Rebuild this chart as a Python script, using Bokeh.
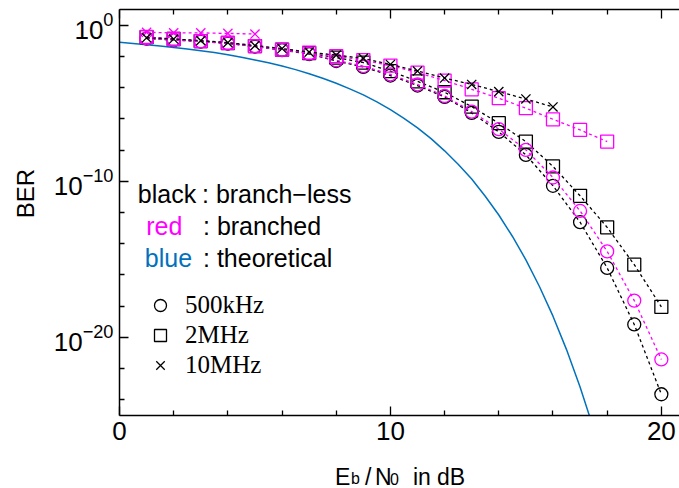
import math
from bokeh.plotting import figure
from bokeh.layouts import row, column
from bokeh.models import (LinearAxis, FixedTicker, Label, Legend, LegendItem,
                          ColumnDataSource)
from bokeh.embed import file_html
from bokeh.resources import INLINE

# ---------------- data (log10 of BER) ----------------
ebn0 = list(range(1, 21))

bl_500k_log = [-0.86, -0.96, -1.05, -1.18, -1.37, -1.60, -1.85, -2.30, -2.68, -3.23,
               -3.87, -4.60, -5.62, -6.84, -8.31, -10.29, -12.62, -15.55, -19.17, -23.64]
br_500k_log = [-0.85, -0.95, -1.04, -1.17, -1.35, -1.58, -1.82, -2.25, -2.62, -3.16,
               -3.80, -4.54, -5.54, -6.66, -7.99, -9.76, -11.90, -14.49, -17.64, -21.41]
bl_2M_log = [-0.77, -0.89, -1.02, -1.15, -1.34, -1.57, -1.79, -2.08, -2.40, -2.95,
             -3.60, -4.30, -5.22, -6.28, -7.46, -9.05, -10.93, -12.95, -15.34, -18.04]
br_2M_log = [-0.75, -0.89, -1.02, -1.13, -1.34, -1.57, -1.76, -1.98, -2.24, -2.59,
             -3.04, -3.55, -4.11, -4.68, -5.32, -6.03, -6.71, -7.46]
bl_10M_log = [-0.81, -0.89, -0.99, -1.12, -1.31, -1.50, -1.73, -1.92, -2.13, -2.52,
              -2.94, -3.39, -3.80, -4.26, -4.73, -5.24]
br_10M_log = [-0.46, -0.50, -0.50, -0.53, -0.57]

theo_x = [0, 0.5, 1, 1.5, 2, 2.5, 3, 3.5, 4, 4.5, 5, 5.5, 6, 6.5, 7, 7.5, 8, 8.5,
          9, 9.5, 10, 10.5, 11, 11.5, 12, 12.5, 13, 13.5, 14, 14.5, 15, 15.5, 16,
          16.5, 17, 17.5]
theo_log = [-1.10, -1.17, -1.25, -1.33, -1.43, -1.53, -1.64, -1.76, -1.90, -2.06,
            -2.23, -2.41, -2.62, -2.85, -3.11, -3.40, -3.72, -4.08, -4.47, -4.92,
            -5.41, -5.97, -6.58, -7.27, -8.05, -8.91, -9.86, -10.96, -12.16, -13.52,
            -15.03, -16.74, -18.64, -20.78, -23.17, -25.85]

x_ticks = [0, 10, 20]
x_minor = [2, 4, 6, 8, 12, 14, 16, 18]
y_ticks = [1e0, 1e-10, 1e-20]
y_minor = [1e-2, 1e-4, 1e-6, 1e-8, 1e-12, 1e-14, 1e-16, 1e-18, 1e-22, 1e-24]

BLACK = "#000000"
MAG = "#FF00FF"
BLUE = "#0072BD"
SANS = "Liberation Sans"
SERIF = "Liberation Serif"

TOTAL_W, TOTAL_H = 679, 488
LEFT_W = 40          # strip holding the "BER" label
BOTTOM_H = 30        # strip holding the x-axis title
MAIN_H = TOTAL_H - BOTTOM_H
FRAME_TOP, FRAME_BOTTOM, FRAME_LEFT = 9, 415, 119


def ber(logs):
    return [10.0 ** v for v in logs]


def blank_fig(w, h):
    f = figure(width=w, height=h, x_range=(0, 1), y_range=(0, 1),
               output_backend="svg", toolbar_location=None,
               min_border=0, x_axis_type=None, y_axis_type=None)
    f.xgrid.visible = False
    f.ygrid.visible = False
    f.outline_line_color = None
    f.background_fill_color = "white"
    f.border_fill_color = "white"
    return f


p = figure(width=TOTAL_W - LEFT_W, height=MAIN_H, x_range=(0, 20.67),
           y_range=(1e-25, 1e1), y_axis_type="log", output_backend="svg",
           toolbar_location=None, min_border_left=FRAME_LEFT - LEFT_W,
           min_border_right=0, min_border_top=FRAME_TOP,
           min_border_bottom=MAIN_H - FRAME_BOTTOM)
p.xgrid.visible = False
p.ygrid.visible = False
p.outline_line_color = None
p.background_fill_color = "white"
p.border_fill_color = "white"


def style_axis(ax, show_labels=True):
    ax.axis_line_width = 1.5
    ax.axis_line_color = "black"
    ax.major_tick_in = 9
    ax.major_tick_out = 0
    ax.minor_tick_in = 5
    ax.minor_tick_out = 0
    ax.major_tick_line_width = 1.3
    ax.minor_tick_line_width = 1.3
    ax.major_tick_line_color = "black"
    ax.minor_tick_line_color = "black"
    if show_labels:
        ax.major_label_text_font = SANS
        ax.major_label_text_font_size = "26px"
        ax.major_label_text_color = "black"
    else:
        ax.major_label_text_font_size = "0px"
        ax.major_label_standoff = 0


xa = p.xaxis[0]
xa.ticker = FixedTicker(ticks=x_ticks, minor_ticks=x_minor)
style_axis(xa)
xa.major_label_standoff = 6

ya = p.yaxis[0]
ya.ticker = FixedTicker(ticks=y_ticks, minor_ticks=y_minor)
style_axis(ya)
ya.major_label_standoff = 6

top = LinearAxis(ticker=FixedTicker(ticks=x_ticks, minor_ticks=x_minor))
style_axis(top, show_labels=False)
p.add_layout(top, "above")

# theoretical curve
p.line(theo_x, ber(theo_log), line_color=BLUE, line_width=1.5)

DASH = "3 3"
LW = 1.3
MS = 13


def series(xs, logs, color, marker):
    src = ColumnDataSource(dict(x=xs, y=ber(logs)))
    p.line("x", "y", source=src, line_color=color, line_dash=DASH, line_width=LW)
    return p.scatter("x", "y", source=src, marker=marker, size=MS, fill_color=None,
                     line_color=color, line_width=LW)


r_bc = series(ebn0[:len(bl_500k_log)], bl_500k_log, BLACK, "circle")
r_bs = series(ebn0[:len(bl_2M_log)], bl_2M_log, BLACK, "square")
series(ebn0[:len(br_500k_log)], br_500k_log, MAG, "circle")
series(ebn0[:len(br_2M_log)], br_2M_log, MAG, "square")
series(ebn0[:len(br_10M_log)], br_10M_log, MAG, "x")
r_bx = series(ebn0[:len(bl_10M_log)], bl_10M_log, BLACK, "x")

BASE_SHIFT = 8   # compensates where Bokeh puts an "alphabetic" baseline


def lab(fig, x0, y1, px, py, text, size="25px", color="black", font=SANS,
        align="left", baseline="alphabetic", angle=0):
    """Place a label given page-style coordinates (px, py); (x0, y1) are the page
    coordinates of the figure frame's left and bottom edges."""
    if baseline == "alphabetic":
        py = py - BASE_SHIFT
    fig.add_layout(Label(x=px - x0, y=y1 - py, x_units="screen", y_units="screen",
                         text=text, text_font=font, text_font_size=size,
                         text_color=color, text_align=align, text_baseline=baseline,
                         angle=angle))


FX0, FY1 = float(FRAME_LEFT), float(FRAME_BOTTOM)

# colour legend
lab(p, FX0, FY1, 137.3, 201, "black", color=BLACK)
lab(p, FX0, FY1, 201.5, 201, ": branch\u2212less")
lab(p, FX0, FY1, 145.7, 233, "red", color=MAG)
lab(p, FX0, FY1, 202.5, 233, ": branched")
lab(p, FX0, FY1, 144.3, 265, "blue", color=BLUE)
lab(p, FX0, FY1, 202.5, 265, ": theoretical")

legend = Legend(items=[LegendItem(label="500kHz", renderers=[r_bc]),
                       LegendItem(label="2MHz", renderers=[r_bs]),
                       LegendItem(label="10MHz", renderers=[r_bx])],
                location=(145 - FX0, FY1 - 380), glyph_width=30, glyph_height=30,
                label_standoff=10, spacing=0, padding=0, margin=0,
                border_line_color=None, background_fill_alpha=0,
                label_text_font=SERIF, label_text_font_size="25px",
                label_text_color="black", label_height=30)
p.add_layout(legend)

# left strip: y-axis title (its frame is aligned with the main frame)
pl = blank_fig(LEFT_W, MAIN_H)
lab(pl, 0, FY1, 25, 193, "BER", size="24px", align="center", baseline="middle",
    angle=math.pi / 2)

# bottom strip: x-axis title with subscripts
pb = blank_fig(TOTAL_W, BOTTOM_H)
Y0 = MAIN_H + BOTTOM_H
lab(pb, 0, Y0, 334.5, 484, "E", size="23px")
lab(pb, 0, Y0, 350.5, 486, "b", size="16px")
lab(pb, 0, Y0, 364.5, 484, "/", size="23px")
lab(pb, 0, Y0, 374.5, 484, "N", size="23px")
lab(pb, 0, Y0, 389.5, 486, "0", size="16px")
lab(pb, 0, Y0, 412.5, 484, "in", size="23px")
lab(pb, 0, Y0, 436.5, 484, "dB", size="23px")

layout = column(row(pl, p, spacing=0), pb, spacing=0)

open("out.html", "w").write(file_html(layout, INLINE))
